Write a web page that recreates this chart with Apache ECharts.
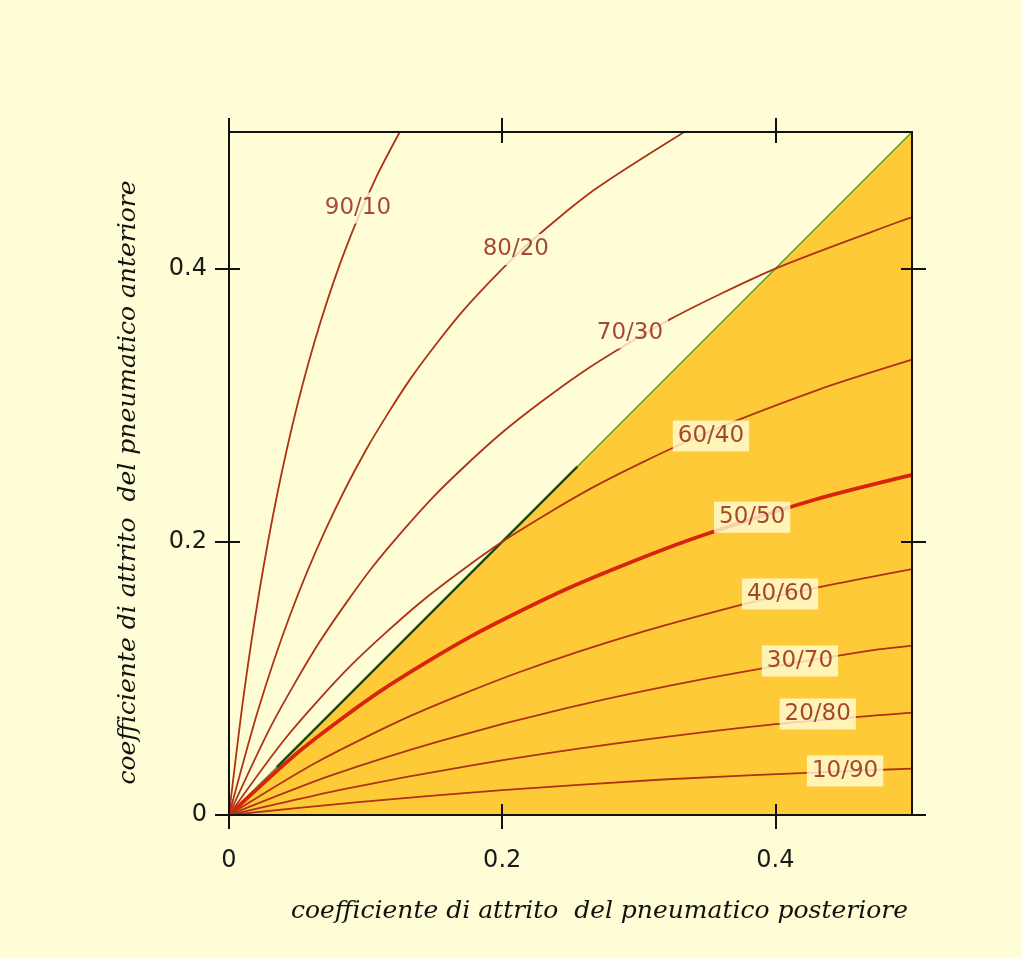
<!DOCTYPE html>
<html>
<head>
<meta charset="utf-8">
<script src="https://cdn.jsdelivr.net/npm/echarts@6/dist/echarts.min.js"></script>
<style>
html,body{margin:0;padding:0;background:#FFFDD6;}
#chart{width:1021px;height:958px;}
</style>
</head>
<body>
<div id="chart"></div>
<script>
// ---- data (x = rear tyre friction coefficient, y = front tyre friction coefficient) ----
const tickValues = [0, 0.2, 0.4];
const axisMin = 0;
const axisMax = 0.5;

const diagonal = [[0, 0], [0.5, 0.5]];
const diagonalDark = [[0.035, 0.035], [0.255, 0.255]];

const curve_90_10 = [[0,0],[0.0105,0.0857],[0.0222,0.1636],[0.0353,0.2348],[0.05,0.30],[0.0667,0.36],[0.0857,0.4154],[0.1077,0.4667],[0.125,0.50]];
const curve_80_20 = [[0,0],[0.0211,0.0762],[0.0444,0.1455],[0.0706,0.2087],[0.10,0.2667],[0.1333,0.32],[0.1714,0.3692],[0.2154,0.4148],[0.2667,0.4571],[0.3333,0.50]];
const curve_70_30 = [[0,0],[0.0316,0.0667],[0.0667,0.1273],[0.1059,0.1826],[0.15,0.2333],[0.20,0.28],[0.2571,0.3231],[0.3231,0.363],[0.40,0.40],[0.4909,0.4345],[0.50,0.4375]];
const curve_60_40 = [[0,0],[0.0421,0.0571],[0.0889,0.1091],[0.1412,0.1565],[0.20,0.20],[0.2667,0.24],[0.3429,0.2769],[0.4308,0.3111],[0.50,0.3333]];
const curve_50_50 = [[0,0],[0.0526,0.0476],[0.1111,0.0909],[0.1765,0.1304],[0.25,0.1667],[0.3333,0.20],[0.4286,0.2308],[0.50,0.249]];
const curve_40_60 = [[0,0],[0.0632,0.0381],[0.1333,0.0727],[0.2118,0.1043],[0.30,0.1333],[0.40,0.16],[0.50,0.180]];
const curve_30_70 = [[0,0],[0.0737,0.0286],[0.1556,0.0545],[0.2471,0.0783],[0.35,0.10],[0.4667,0.12],[0.50,0.124]];
const curve_20_80 = [[0,0],[0.0842,0.019],[0.1778,0.0364],[0.2824,0.0522],[0.40,0.0665],[0.50,0.075]];
const curve_10_90 = [[0,0],[0.0947,0.0095],[0.20,0.0182],[0.3176,0.026],[0.45,0.032],[0.50,0.034]];

const labelNames = ['90/10','80/20','70/30','60/40','50/50','40/60','30/70','20/80','10/90'];
const labelX = [0.0944, 0.210, 0.2935, 0.3528, 0.383, 0.4034, 0.418, 0.431, 0.451];
const labelY = [0.4444, 0.414, 0.3528, 0.2775, 0.218, 0.1618, 0.1127, 0.0739, 0.0322];

const xTitle = 'coefficiente di attrito  del pneumatico posteriore';
const yTitle = 'coefficiente di attrito  del pneumatico anteriore';

// ---- styles ----
const CREAM = '#FFFDD6';
const ORANGE = '#FFCA38';
const CURVE = '#AE3216';
const CURVE_MAIN = '#D8240A';
const LABEL = '#8C1C0C';
const AXIS = '#111111';

function makeAxis(dim, position, inside, showLabel, extra) {
  const isX = dim === 'x';
  const ax = {
    type: 'value',
    position: position,
    min: axisMin,
    max: axisMax,
    interval: 0.1,
    z: 20,
    splitLine: { show: false },
    axisLine: { show: true, onZero: false, lineStyle: { color: AXIS, width: 2 } },
    axisTick: {
      show: true,
      inside: inside,
      length: inside ? 11 : 14,
      customValues: tickValues,
      lineStyle: { color: AXIS, width: 2 }
    },
    axisLabel: {
      show: showLabel,
      customValues: tickValues,
      fontFamily: 'DejaVu Sans',
      fontSize: 24,
      color: '#1a1a1a',
      margin: isX ? 34 : 22,
      formatter: function (v) { return v === 0 ? '0' : String(v); }
    }
  };
  return Object.assign(ax, extra || {});
}

const titleFont = {
  fontFamily: 'DejaVu Serif',
  fontStyle: 'italic',
  fontSize: 25,
  color: '#111'
};

const xAxes = [
  makeAxis('x', 'bottom', false, true, {
    name: xTitle, nameLocation: 'middle', nameGap: 84,
    nameTextStyle: Object.assign({ padding: [0, 0, 0, 58] }, titleFont)
  }),
  makeAxis('x', 'bottom', true, false),
  makeAxis('x', 'top', false, false),
  makeAxis('x', 'top', true, false)
];
const yAxes = [
  makeAxis('y', 'left', false, true, {
    name: yTitle, nameLocation: 'middle', nameGap: 88,
    nameTextStyle: Object.assign({ padding: [0, 18, 0, 0] }, titleFont)
  }),
  makeAxis('y', 'left', true, false),
  makeAxis('y', 'right', false, false),
  makeAxis('y', 'right', true, false)
];

function curveSeries(data, main) {
  return {
    type: 'line',
    data: data,
    symbol: 'none',
    smooth: 0.25,
    z: 3,
    silent: true,
    lineStyle: { color: main ? CURVE_MAIN : CURVE, width: main ? 3.8 : 1.8 }
  };
}

const labelData = labelNames.map(function (n, i) {
  return { name: n, value: [labelX[i], labelY[i]] };
});

const chart = echarts.init(document.getElementById('chart'), null, { renderer: 'canvas' });
chart.setOption({
  backgroundColor: CREAM,
  animation: false,
  grid: { left: 229, right: 109, top: 132, bottom: 143, containLabel: false },
  xAxis: xAxes,
  yAxis: yAxes,
  series: [
    {
      type: 'line', data: diagonal, symbol: 'none', z: 1, silent: true,
      lineStyle: { color: '#5E9B2C', width: 1.6 },
      areaStyle: { color: ORANGE, opacity: 1 }
    },
    {
      type: 'line', data: diagonalDark, symbol: 'none', z: 2, silent: true,
      lineStyle: { color: '#1D4A12', width: 2.5 }
    },
    curveSeries(curve_90_10),
    curveSeries(curve_80_20),
    curveSeries(curve_70_30),
    curveSeries(curve_60_40),
    curveSeries(curve_50_50, true),
    curveSeries(curve_40_60),
    curveSeries(curve_30_70),
    curveSeries(curve_20_80),
    curveSeries(curve_10_90),
    {
      type: 'scatter', data: labelData, symbolSize: 1, z: 10, silent: true,
      itemStyle: { color: 'rgba(0,0,0,0)' },
      label: {
        show: true, position: 'inside', formatter: '{b}',
        fontFamily: 'DejaVu Sans', fontSize: 23, color: LABEL,
        backgroundColor: CREAM, padding: [5, 5, 3, 5]
      }
    }
  ]
});
</script>
</body>
</html>
